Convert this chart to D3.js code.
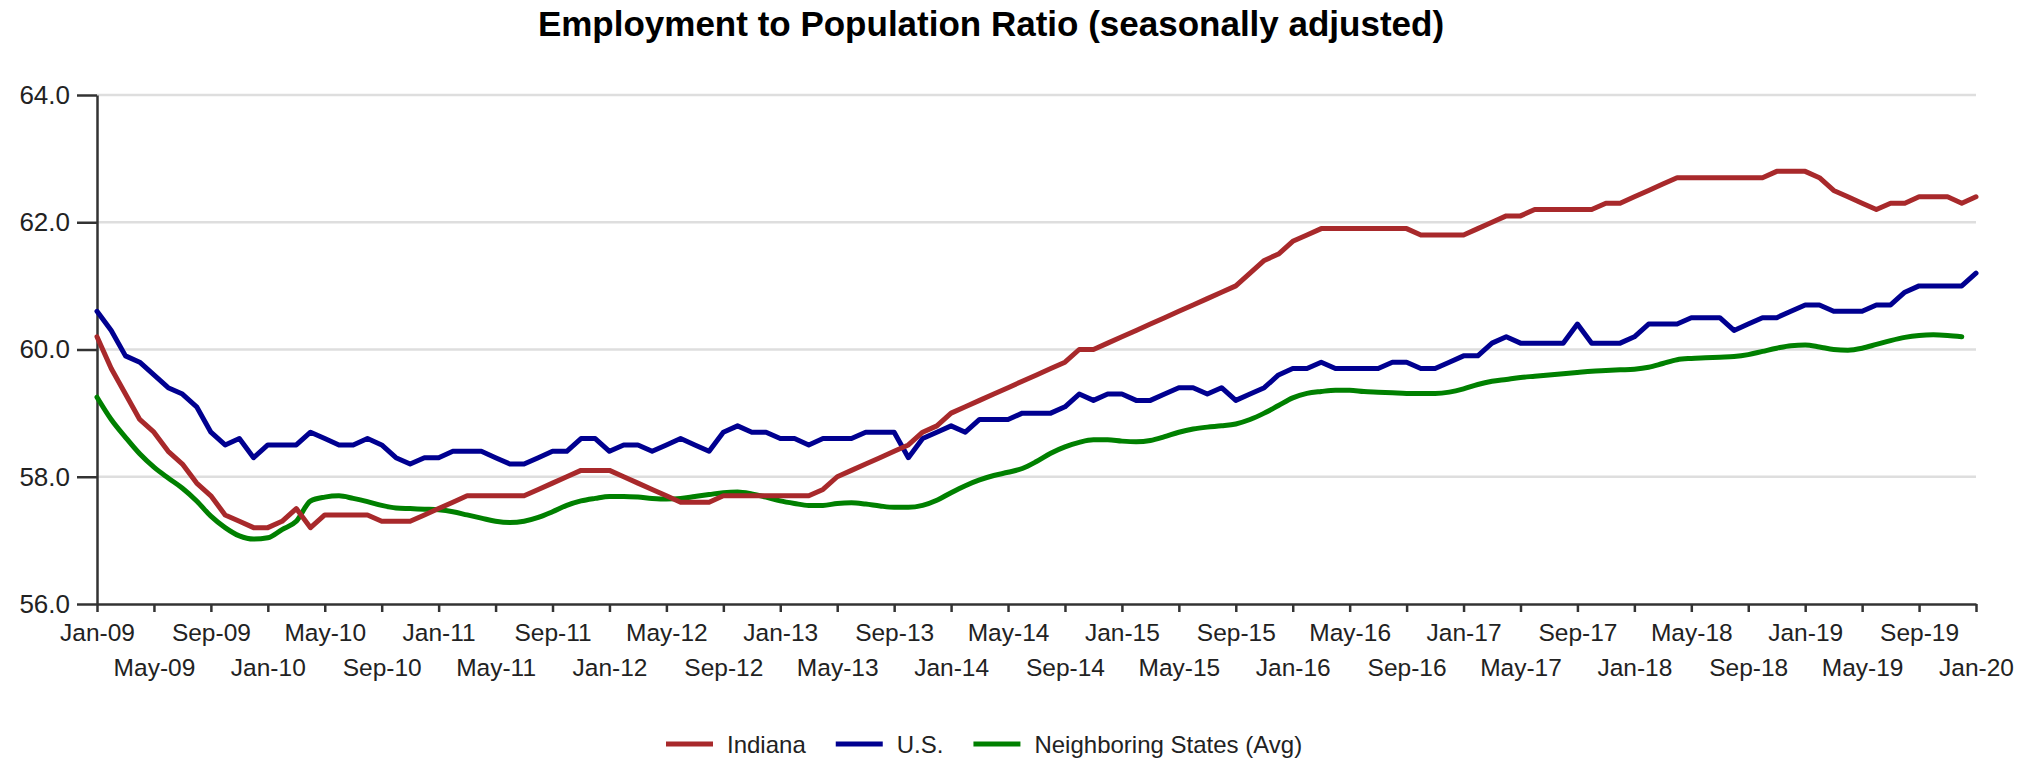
<!DOCTYPE html>
<html>
<head>
<meta charset="utf-8">
<script src="https://cdn.jsdelivr.net/npm/d3@7"></script>
<style>
body { margin: 0; background: #fff; }
text { font-family: Arial, "Liberation Sans", sans-serif; }
</style>
</head>
<body>
<svg width="2033" height="759"></svg>
<script>
// monthly values, Jan-09 .. Jan-20
var startMonth = "Jan-09";
var indiana = [
	60.2, 59.7, 59.3, 58.9, 58.7, 58.4, 58.2, 57.9, 57.7, 57.4, 57.3, 57.2,
	57.2, 57.3, 57.5, 57.2, 57.4, 57.4, 57.4, 57.4, 57.3, 57.3, 57.3, 57.4,
	57.5, 57.6, 57.7, 57.7, 57.7, 57.7, 57.7, 57.8, 57.9, 58.0, 58.1, 58.1,
	58.1, 58.0, 57.9, 57.8, 57.7, 57.6, 57.6, 57.6, 57.7, 57.7, 57.7, 57.7,
	57.7, 57.7, 57.7, 57.8, 58.0, 58.1, 58.2, 58.3, 58.4, 58.5, 58.7, 58.8,
	59.0, 59.1, 59.2, 59.3, 59.4, 59.5, 59.6, 59.7, 59.8, 60.0, 60.0, 60.1,
	60.2, 60.3, 60.4, 60.5, 60.6, 60.7, 60.8, 60.9, 61.0, 61.2, 61.4, 61.5,
	61.7, 61.8, 61.9, 61.9, 61.9, 61.9, 61.9, 61.9, 61.9, 61.8, 61.8, 61.8,
	61.8, 61.9, 62.0, 62.1, 62.1, 62.2, 62.2, 62.2, 62.2, 62.2, 62.3, 62.3,
	62.4, 62.5, 62.6, 62.7, 62.7, 62.7, 62.7, 62.7, 62.7, 62.7, 62.8, 62.8,
	62.8, 62.7, 62.5, 62.4, 62.3, 62.2, 62.3, 62.3, 62.4, 62.4, 62.4, 62.3,
	62.4
];
var us = [
	60.6, 60.3, 59.9, 59.8, 59.6, 59.4, 59.3, 59.1, 58.7, 58.5, 58.6, 58.3,
	58.5, 58.5, 58.5, 58.7, 58.6, 58.5, 58.5, 58.6, 58.5, 58.3, 58.2, 58.3,
	58.3, 58.4, 58.4, 58.4, 58.3, 58.2, 58.2, 58.3, 58.4, 58.4, 58.6, 58.6,
	58.4, 58.5, 58.5, 58.4, 58.5, 58.6, 58.5, 58.4, 58.7, 58.8, 58.7, 58.7,
	58.6, 58.6, 58.5, 58.6, 58.6, 58.6, 58.7, 58.7, 58.7, 58.3, 58.6, 58.7,
	58.8, 58.7, 58.9, 58.9, 58.9, 59.0, 59.0, 59.0, 59.1, 59.3, 59.2, 59.3,
	59.3, 59.2, 59.2, 59.3, 59.4, 59.4, 59.3, 59.4, 59.2, 59.3, 59.4, 59.6,
	59.7, 59.7, 59.8, 59.7, 59.7, 59.7, 59.7, 59.8, 59.8, 59.7, 59.7, 59.8,
	59.9, 59.9, 60.1, 60.2, 60.1, 60.1, 60.1, 60.1, 60.4, 60.1, 60.1, 60.1,
	60.2, 60.4, 60.4, 60.4, 60.5, 60.5, 60.5, 60.3, 60.4, 60.5, 60.5, 60.6,
	60.7, 60.7, 60.6, 60.6, 60.6, 60.7, 60.7, 60.9, 61.0, 61.0, 61.0, 61.0,
	61.2
];
var neighbors = [
	59.25, 58.9, 58.62, 58.36, 58.15, 57.98, 57.82, 57.62, 57.38, 57.2, 57.07, 57.02,
	57.04, 57.17, 57.3, 57.62, 57.68, 57.7, 57.66, 57.61, 57.55, 57.51, 57.5, 57.49,
	57.48, 57.45, 57.4, 57.35, 57.3, 57.28, 57.3, 57.36, 57.45, 57.55, 57.62, 57.66,
	57.69, 57.69, 57.68, 57.66, 57.65, 57.66, 57.69, 57.72, 57.75, 57.76, 57.73, 57.68,
	57.62, 57.58, 57.55, 57.55, 57.58, 57.59, 57.57, 57.54, 57.52, 57.52, 57.55, 57.63,
	57.75, 57.86, 57.95, 58.02, 58.07, 58.13, 58.24, 58.37, 58.47, 58.54, 58.58, 58.58,
	58.56, 58.55, 58.57, 58.63, 58.7, 58.75, 58.78, 58.8, 58.83, 58.9, 59.0, 59.12,
	59.24, 59.31, 59.34, 59.36, 59.36, 59.34, 59.33, 59.32, 59.31, 59.31, 59.31, 59.33,
	59.38, 59.45, 59.5, 59.53, 59.56, 59.58, 59.6, 59.62, 59.64, 59.66, 59.67, 59.68,
	59.69, 59.72, 59.78, 59.84, 59.86, 59.87, 59.88, 59.89, 59.92, 59.97, 60.02, 60.06,
	60.07, 60.04, 60.0, 59.99, 60.02, 60.08, 60.14, 60.19, 60.22, 60.23, 60.22, 60.2
];
var tickLabels = [
	"Jan-09", "May-09", "Sep-09", "Jan-10", "May-10", "Sep-10", "Jan-11", "May-11",
	"Sep-11", "Jan-12", "May-12", "Sep-12", "Jan-13", "May-13", "Sep-13", "Jan-14",
	"May-14", "Sep-14", "Jan-15", "May-15", "Sep-15", "Jan-16", "May-16", "Sep-16",
	"Jan-17", "May-17", "Sep-17", "Jan-18", "May-18", "Sep-18", "Jan-19", "May-19",
	"Sep-19", "Jan-20"
];
var yTicks = [56, 58, 60, 62, 64];
var seriesNames = ["Indiana", "U.S.", "Neighboring States (Avg)"];
var seriesColors = ["#a8292b", "#000090", "#008000"];
var title = "Employment to Population Ratio (seasonally adjusted)";

var parseMonth = d3.timeParse("%b-%y");
var start = parseMonth(startMonth);
function monthIndex(label) { return d3.timeMonth.count(start, parseMonth(label)); }

var svg = d3.select("svg"),
	margin = {top: 95, right: 57, bottom: 155, left: 97},
	width = +svg.attr("width") - margin.left - margin.right,
	height = +svg.attr("height") - margin.top - margin.bottom,
	g = svg.append("g").attr("transform", "translate(" + margin.left + "," + margin.top + ")");

var x = d3.scaleLinear()
	.domain([0, monthIndex(tickLabels[tickLabels.length - 1])])
	.range([0, width]);
var y = d3.scaleLinear()
	.domain([d3.min(yTicks), d3.max(yTicks)])
	.range([height, 0]);

svg.append("text")
	.attr("x", 991)
	.attr("y", 36)
	.attr("text-anchor", "middle")
	.attr("font-size", "35px")
	.attr("font-weight", "bold")
	.attr("fill", "#000")
	.text(title);

// grid
g.append("g")
	.selectAll("line")
	.data(yTicks.slice(1))
	.enter().append("line")
	.attr("x1", 0)
	.attr("x2", width)
	.attr("y1", function(d) { return y(d); })
	.attr("y2", function(d) { return y(d); })
	.attr("stroke", "#dedede")
	.attr("stroke-width", 2.5);

var yAxis = g.append("g")
	.call(d3.axisLeft(y).tickValues(yTicks).tickFormat(d3.format(".1f")).tickSize(20).tickPadding(7).tickSizeOuter(0));
yAxis.selectAll("text").attr("font-size", "26px").attr("fill", "#222");

var xAxis = g.append("g")
	.attr("transform", "translate(0," + height + ")")
	.call(d3.axisBottom(x)
		.tickValues(tickLabels.map(monthIndex))
		.tickFormat(function(d, i) { return tickLabels[i]; })
		.tickSize(8).tickPadding(12).tickSizeOuter(0));
xAxis.selectAll("text")
	.attr("font-size", "24.5px")
	.attr("fill", "#222")
	.attr("transform", function(d, i) { return i % 2 ? "translate(0,35)" : null; });

svg.selectAll(".domain, .tick line")
	.attr("stroke", "#333")
	.attr("stroke-width", 2.5);

var line = d3.line()
	.x(function(d, i) { return x(i); })
	.y(function(d) { return y(d); });
var smooth = d3.line()
	.curve(d3.curveMonotoneX)
	.x(function(d, i) { return x(i); })
	.y(function(d) { return y(d); });

var series = [indiana, us, neighbors];
[neighbors, us, indiana].forEach(function(s) {
	var k = series.indexOf(s);
	g.append("path")
		.datum(s)
		.attr("fill", "none")
		.attr("stroke", seriesColors[k])
		.attr("stroke-width", 5)
		.attr("stroke-linejoin", "round")
		.attr("stroke-linecap", "round")
		.attr("d", k == 2 ? smooth : line);
});

// legend
var legend = svg.append("g").attr("transform", "translate(666,744)");
var lx = 0;
seriesNames.forEach(function(name, i) {
	legend.append("line")
		.attr("x1", lx).attr("x2", lx + 47)
		.attr("stroke", seriesColors[i])
		.attr("stroke-width", 5);
	var t = legend.append("text")
		.attr("x", lx + 61)
		.attr("y", 9)
		.attr("font-size", "24px")
		.attr("fill", "#222")
		.text(name);
	lx += 61 + t.node().getComputedTextLength() + 30;
});
</script>
</body>
</html>
